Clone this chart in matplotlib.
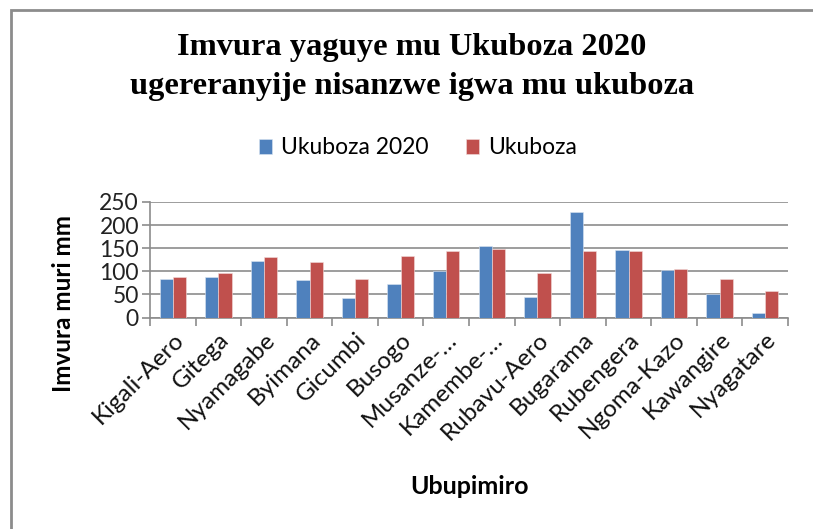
import matplotlib
matplotlib.use("Agg")
import matplotlib.pyplot as plt
import numpy as np
from matplotlib.patches import Rectangle

stations = ["Kigali-Aero", "Gitega", "Nyamagabe", "Byimana", "Gicumbi", "Busogo",
            "Musanze-…", "Kamembe-…", "Rubavu-Aero", "Bugarama", "Rubengera",
            "Ngoma-Kazo", "Kawangire", "Nyagatare"]
ukuboza_2020 = [84, 87, 123, 82, 43, 73, 100, 154, 45, 229, 146, 102, 51, 9]
ukuboza_normal = [87, 96, 132, 121, 84, 134, 143, 149, 96, 143, 143, 104, 84, 57]
yticks = [0, 50, 100, 150, 200, 250]

title = "Imvura yaguye mu Ukuboza 2020\nugereranyije nisanzwe igwa mu ukuboza"
series_names = ["Ukuboza 2020", "Ukuboza"]
ylabel = "Imvura muri mm"
xlabel = "Ubupimiro"

W, H = 813, 529
fig = plt.figure(figsize=(W / 100, H / 100), dpi=100)
sans = ["Lato", "DejaVu Sans"]

# chart border (right and bottom edges lie outside the picture)
fig.patches.append(Rectangle((11 / W, -0.5), 2.0, 1.5 - 10 / H, transform=fig.transFigure,
                             fill=False, edgecolor="#8c8c8c", linewidth=2))

left, right, top, bottom = 150, 788, 202, 317.5
ax = fig.add_axes([left / W, 1 - bottom / H, (right - left) / W, (bottom - top) / H])

x = np.arange(len(stations))
bw = 0.29
ax.bar(x - bw / 2, ukuboza_2020, width=bw, color="#4F81BD", edgecolor="#dbe5f1",
       linewidth=0.4, label=series_names[0], zorder=3)
ax.bar(x + bw / 2, ukuboza_normal, width=bw, color="#C0504D", edgecolor="#f2dcdb",
       linewidth=0.4, label=series_names[1], zorder=3)

ax.set_xlim(-0.5, len(stations) - 0.5)
ax.set_ylim(0, 250)
ax.set_yticks(yticks)
ax.set_yticklabels([str(v) for v in yticks], fontsize=16.5, family=sans, color="#222222")
ax.yaxis.grid(True, color="#8c8c8c", linewidth=1.2, zorder=0)
ax.set_xticks(np.arange(len(stations) + 1) - 0.5, minor=False)
ax.set_xticklabels([""] * (len(stations) + 1))
ax.set_xticks(x, minor=True)
ax.set_xticklabels(stations, minor=True, rotation=45, ha="right", rotation_mode="anchor",
                   fontsize=17.5, family=sans, color="#111111")
ax.tick_params(axis="x", which="minor", length=0, pad=8)
ax.tick_params(axis="x", which="major", length=6, color="#8c8c8c", width=1.2)
ax.tick_params(axis="y", length=6, color="#8c8c8c", width=1.2, pad=2)
for s in ["top", "right"]:
    ax.spines[s].set_visible(False)
for s in ["left", "bottom"]:
    ax.spines[s].set_color("#8c8c8c")
    ax.spines[s].set_linewidth(1.2)

fig.text(412 / W, 1 - 67 / H, title, ha="center", va="center", fontsize=23.3,
         fontweight="bold", family=["Liberation Serif", "DejaVu Serif"], linespacing=1.45)

fig.legend(loc="center", bbox_to_anchor=(418 / W, 1 - 148 / H), ncol=2, frameon=False,
           prop={"family": sans, "size": 16.5}, handlelength=0.6, handleheight=0.6,
           columnspacing=1.6, handletextpad=0.4)

fig.text(63 / W, 1 - 303 / H, ylabel, rotation=90, ha="center", va="center",
         fontsize=17.5, fontweight="bold", family=sans)
fig.text(469 / W, 1 - 487 / H, xlabel, ha="center", va="center",
         fontsize=18, fontweight="bold", family=sans)

fig.savefig("out.png", dpi=100)
